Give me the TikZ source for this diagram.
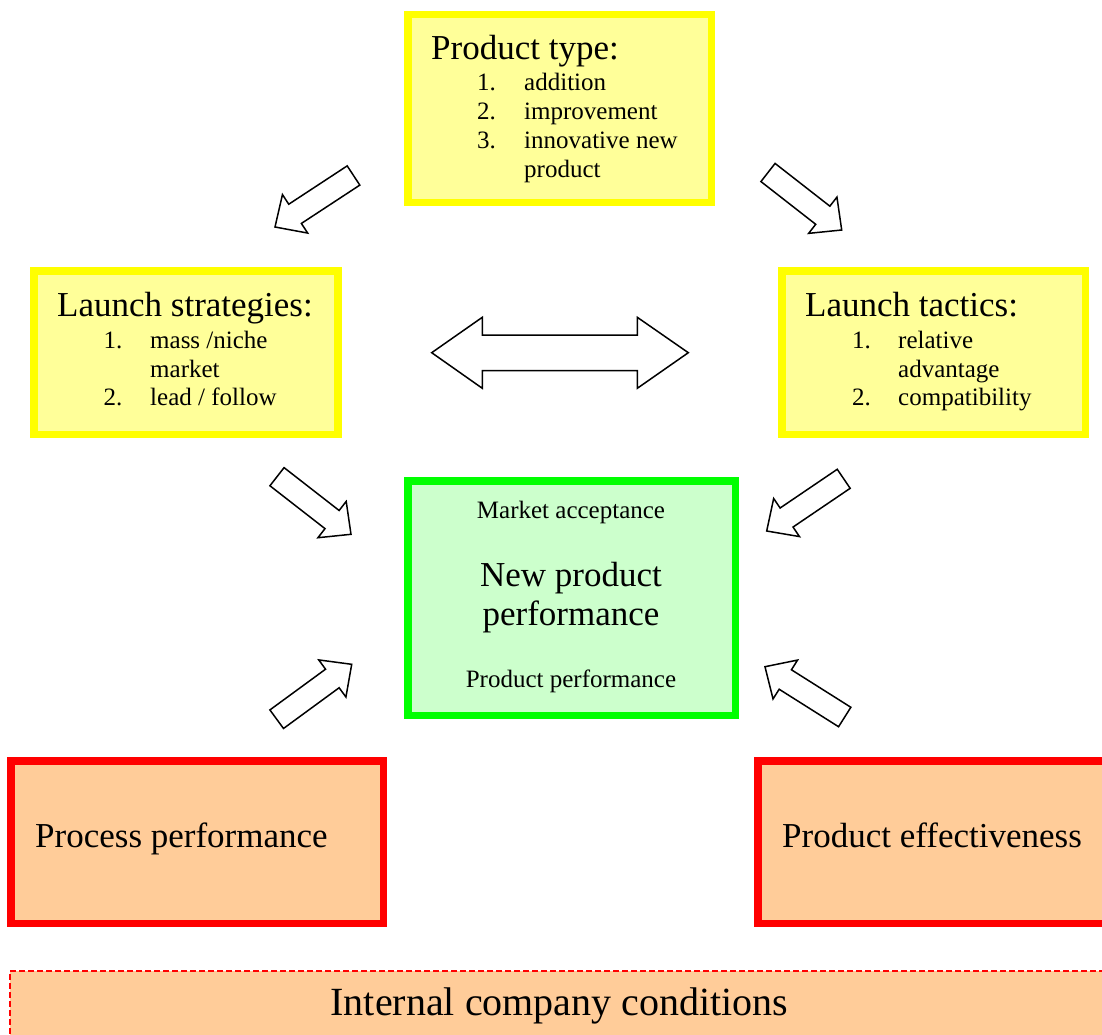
\documentclass[tikz,border=0pt]{standalone}
\usepackage{fontspec}
\setmainfont{Liberation Serif}
\usetikzlibrary{calc}

\definecolor{boxyellow}{HTML}{FFFF00}
\definecolor{fillyellow}{HTML}{FFFF99}
\definecolor{boxgreen}{HTML}{00FF00}
\definecolor{fillgreen}{HTML}{CCFFCC}
\definecolor{boxred}{HTML}{FF0000}
\definecolor{fillorange}{HTML}{FFCC99}

\newcommand\hdfont{\fontsize{35}{42}\selectfont}
\newcommand\lsfont{\fontsize{25}{29}\selectfont}
\newcommand\btfont{\fontsize{40}{46}\selectfont}

% hollow block arrow from a named tail centre to a named tip
\newcommand\blockarrow[2]{%
  \coordinate (#1-b) at ($(#2)!24pt!(#1)$);
  \draw[hollowarrow]
    ($(#1)!11.5pt!90:(#2)$) -- ($(#1-b)!11.5pt!90:(#2)$) --
    ($(#1-b)!23pt!90:(#2)$) -- (#2) --
    ($(#1-b)!23pt!-90:(#2)$) -- ($(#1-b)!11.5pt!-90:(#2)$) --
    ($(#1)!11.5pt!-90:(#2)$) -- cycle;
}

\begin{document}
\begin{tikzpicture}[x=1pt,y=-1pt,
  ybox/.style={draw=boxyellow,fill=fillyellow,line width=7.5pt,anchor=north west,inner sep=0,minimum width=#1},
  gbox/.style={draw=boxgreen,fill=fillgreen,line width=7.5pt,anchor=north west,inner sep=0},
  rbox/.style={draw=boxred,fill=fillorange,line width=7.5pt,anchor=north west,inner sep=0},
  dbox/.style={draw=boxred,fill=fillorange,line width=1.5pt,dash pattern=on 6pt off 3pt,anchor=north west,inner sep=0},
  hollowarrow/.style={draw=black,fill=white,line width=1.5pt,line join=miter},
  txt/.style={anchor=base west,inner sep=0},
  ctxt/.style={anchor=base,inner sep=0}]
\clip (0,0) rectangle (1102,1035);
\fill[white] (0,0) rectangle (1102,1035);

% boxes (placed by the outer edge of their frames)
\node[ybox=303.5pt,minimum height=187.5pt] (ptype) at (404,11) {};
\node[ybox=304.2pt,minimum height=163.5pt] (strat) at (30,267.3) {};
\node[ybox=303.5pt,minimum height=163.5pt] (tact) at (778,267.3) {};
\node[gbox,minimum width=327.8pt,minimum height=234.5pt] (npp) at (404,477.3) {};
\node[rbox,minimum width=372.5pt,minimum height=162.5pt] (proc) at (7,757) {};
\node[rbox,minimum width=362pt,minimum height=162.5pt] (eff) at (754.3,757) {};
\node[dbox,minimum width=1110pt,minimum height=90pt] (icc) at (9.3,970.3) {};

% product type
\node[txt] (pt-h) at (431,59.5) {\hdfont Product type:};
\node[txt] (pt-n1) at (477,90.5) {\lsfont 1.};
\node[txt] (pt-i1) at (524,90.5) {\lsfont addition};
\node[txt] (pt-n2) at (477,120) {\lsfont 2.};
\node[txt] (pt-i2) at (524,120) {\lsfont improvement};
\node[txt] (pt-n3) at (477,149) {\lsfont 3.};
\node[txt] (pt-i3) at (524,149) {\lsfont innovative new};
\node[txt] (pt-i3b) at (524,177.5) {\lsfont product};

% launch strategies
\node[txt] (ls-h) at (57,316) {\hdfont Launch strategies:};
\node[txt] (ls-n1) at (103.5,348.3) {\lsfont 1.};
\node[txt] (ls-i1) at (150,348.3) {\lsfont mass /niche};
\node[txt] (ls-i1b) at (150,377.3) {\lsfont market};
\node[txt] (ls-n2) at (103.5,405.7) {\lsfont 2.};
\node[txt] (ls-i2) at (150,405.7) {\lsfont lead / follow};

% launch tactics
\node[txt] (lt-h) at (805,316) {\hdfont Launch tactics:};
\node[txt] (lt-n1) at (852,348.3) {\lsfont 1.};
\node[txt] (lt-i1) at (898,348.3) {\lsfont relative};
\node[txt] (lt-i1b) at (898,377.3) {\lsfont advantage};
\node[txt] (lt-n2) at (852,405.7) {\lsfont 2.};
\node[txt] (lt-i2) at (898,405.7) {\lsfont compatibility};

% new product performance
\node[ctxt] (np-ma) at (571,518) {\lsfont Market acceptance};
\node[ctxt] (np-t1) at (571,586) {\hdfont New product};
\node[ctxt] (np-t2) at (571,625) {\hdfont performance};
\node[ctxt] (np-pp) at (571,687) {\lsfont Product performance};

% bottom boxes
\node[txt] (proc-t) at (35,847) {\hdfont Process performance};
\node[txt] (eff-t) at (782,847) {\hdfont Product effectiveness};
\node[ctxt] (icc-t) at (559.5,1015) {\btfont Internal company conditions};

% arrows
\coordinate (a1) at (353.5,175.5); \coordinate (a1h) at (275,227);
\coordinate (a2) at (768,172.5);   \coordinate (a2h) at (841.7,230);
\coordinate (a3) at (277,476.7);   \coordinate (a3h) at (351,534.3);
\coordinate (a4) at (843.7,478.8); \coordinate (a4h) at (766.7,531);
\coordinate (a5) at (276.7,719.2); \coordinate (a5h) at (351.7,664.3);
\coordinate (a6) at (844.7,717);   \coordinate (a6h) at (765,666.7);
\blockarrow{a1}{a1h}
\blockarrow{a2}{a2h}
\blockarrow{a3}{a3h}
\blockarrow{a4}{a4h}
\blockarrow{a5}{a5h}
\blockarrow{a6}{a6h}

% two-headed arrow between strategies and tactics
\coordinate (dl) at (431.7,352.7);
\coordinate (dr) at (688.3,352.7);
\draw[hollowarrow] (dl) -- (482.3,317.3) -- (482.3,335) -- (637.3,335) --
  (637.3,317.3) -- (dr) -- (637.3,388.3) -- (637.3,370.7) -- (482.3,370.7) --
  (482.3,388.3) -- cycle;
\end{tikzpicture}
\end{document}
